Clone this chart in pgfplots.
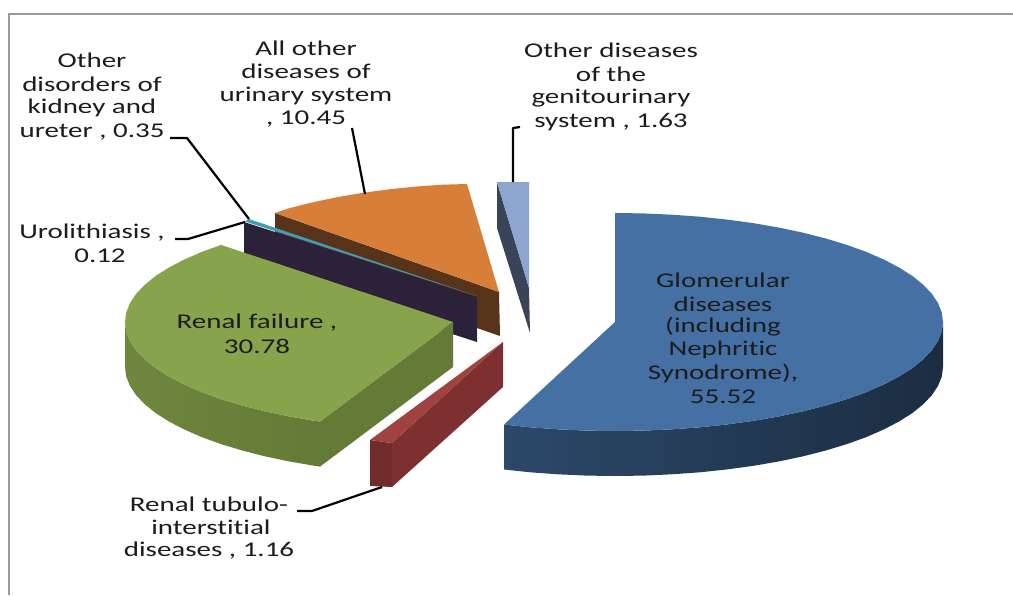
\documentclass[border=0pt]{standalone}
\usepackage{pgfplots}
\pgfplotsset{compat=1.18}
\usepackage{fontspec}
\setmainfont[Ligatures=NoCommon]{Carlito}
\definecolor{cBlue}{HTML}{4470A3}
\definecolor{cGreen}{HTML}{87A44C}
\definecolor{cOrange}{HTML}{D77F38}
\definecolor{cBrown}{HTML}{57331A}
\definecolor{cNavy}{HTML}{2B2138}
\definecolor{cTeal}{HTML}{3F9DB8}
\definecolor{cLight}{HTML}{8EA5CF}
\definecolor{cSlate}{HTML}{3A4458}
\definecolor{cRedTop}{HTML}{A04340}
\definecolor{cRedSide}{HTML}{7E3030}
\definecolor{cRedFront}{HTML}{722B2B}
\definecolor{cGreenSide}{HTML}{647A37}
\definecolor{cFrame}{HTML}{9A9A9A}
\definecolor{cTxt}{HTML}{1C1C1C}
\tikzset{lab/.style={font=\fontsize{21}{24}\selectfont,text=cTxt,xscale=1.38,transform shape,inner sep=0pt,anchor=center},
 lead/.style={draw=black,line width=2.2pt,no marks,line join=round}}
\begin{document}
\begin{tikzpicture}
\begin{axis}[width=1013pt,height=595pt,scale only axis,hide axis,xmin=0,xmax=1013,ymin=0,ymax=595,y dir=reverse,clip=true]
% page extent
\addplot[fill=white,draw=none,no marks] coordinates {(0,0)(1013,0)(1013,595)(0,595)} -- cycle;
% frame
\addplot[draw=cFrame,line width=2pt,no marks] coordinates {(9,595)(9,14)(1013,14)};
% light blue slice
\addplot[fill=cSlate,draw=none,no marks] coordinates {(497,182)(529,288)(530,333)(497,228)} -- cycle;
\addplot[fill=cLight,draw=none,no marks] coordinates {(497,182)(529,182)(529,288)} -- cycle;
% orange slice
\addplot[fill=cBrown,draw=none,no marks] coordinates {(275,213)(499,292)(500,336)(275,258)} -- cycle;
\addplot[fill=cOrange,draw=none,no marks] coordinates {(499,292)(467,184)(442,184.7)(414.1,186.7)(386.8,189.6)(360.4,193.2)(335,197.6)(310.9,202.7)(288.2,208.5)(275,213)} -- cycle;
% urolithiasis and other disorders
\addplot[fill=cNavy,draw=none,no marks] coordinates {(244,222)(477,297)(477,342)(244,267)} -- cycle;
\addplot[fill=cTeal,draw=none,no marks] coordinates {(249,219)(477,296)(245,221.5)} -- cycle;
% red slice
\addplot[fill=cRedFront,draw=none,no marks] coordinates {(370,440)(392,443)(392,487)(370,486)} -- cycle;
\addplot[fill=cRedSide,draw=none,no marks] coordinates {(392,443)(503,342)(503,387)(392,487)} -- cycle;
\addplot[fill=cRedTop,draw=none,no marks] coordinates {(370,440)(392,443)(503,342)} -- cycle;
% green slice
\addplot[draw=none,no marks,left color=cGreenSide!70!cGreen,right color=cGreenSide] coordinates {(320,421.6)(314.4,420.8)(289,416.4)(264.9,411.3)(242.2,405.5)(221.1,399.1)(201.7,392.1)(184.3,384.5)(169,376.5)(155.7,368.1)(144.8,359.3)(136.2,350.2)(130,340.9)(126.2,331.5)(125,322)(125,367)(126.2,376.5)(130,385.9)(136.2,395.2)(144.8,404.3)(155.7,413.1)(169,421.5)(184.3,429.5)(201.7,437.1)(221.1,444.1)(242.2,450.5)(264.9,456.3)(289,461.4)(314.4,465.8)(320,466.6)} -- cycle;
\addplot[fill=cGreenSide,draw=none,no marks] coordinates {(320,421.6)(453,322)(453,367)(320,466.6)} -- cycle;
\addplot[fill=cGreen,draw=none,no marks] coordinates {(453,322)(320,421.6)(314.4,420.8)(289,416.4)(264.9,411.3)(242.2,405.5)(221.1,399.1)(201.7,392.1)(184.3,384.5)(169,376.5)(155.7,368.1)(144.8,359.3)(136.2,350.2)(130,340.9)(126.2,331.5)(125,322)(126.2,312.5)(130,303.1)(136.2,293.8)(144.8,284.7)(155.7,275.9)(169,267.5)(184.3,259.5)(201.7,251.9)(221.1,244.9)} -- cycle;
% blue slice
\addplot[draw=none,no marks,left color=cBlue!65!black,right color=cBlue!40!black] coordinates {(504,424.5)(530.1,427.3)(558,429.3)(586.4,430.6)(615,431)(643.6,430.6)(672,429.3)(699.9,427.3)(727.2,424.4)(753.6,420.8)(779,416.4)(803.1,411.3)(825.8,405.5)(846.9,399.1)(866.3,392.1)(883.7,384.5)(899,376.5)(912.3,368.1)(923.2,359.3)(931.8,350.2)(938,340.9)(941.8,331.5)(943,322)(943,367)(941.8,376.5)(938,385.9)(931.8,395.2)(923.2,404.3)(912.3,413.1)(899,421.5)(883.7,429.5)(866.3,437.1)(846.9,444.1)(825.8,450.5)(803.1,456.3)(779,461.4)(753.6,465.8)(727.2,469.4)(699.9,472.3)(672,474.3)(643.6,475.6)(615,476)(586.4,475.6)(558,474.3)(530.1,472.3)(504,469.5)} -- cycle;
\addplot[fill=cBlue,draw=none,no marks] coordinates {(615,322)(615,213)(643.6,213.4)(672,214.7)(699.9,216.7)(727.2,219.6)(753.6,223.2)(779,227.6)(803.1,232.7)(825.8,238.5)(846.9,244.9)(866.3,251.9)(883.7,259.5)(899,267.5)(912.3,275.9)(923.2,284.7)(931.8,293.8)(938,303.1)(941.8,312.5)(943,322)(941.8,331.5)(938,340.9)(931.8,350.2)(923.2,359.3)(912.3,368.1)(899,376.5)(883.7,384.5)(866.3,392.1)(846.9,399.1)(825.8,405.5)(803.1,411.3)(779,416.4)(753.6,420.8)(727.2,424.4)(699.9,427.3)(672,429.3)(643.6,430.6)(615,431)(586.4,430.6)(558,429.3)(530.1,427.3)(504,424.5)} -- cycle;
% leader lines
\addplot[lead] coordinates {(520,127)(513,128)(513,182)};
\addplot[lead] coordinates {(352,128)(365,194)};
\addplot[lead] coordinates {(170,138)(187,138)(249,219)};
\addplot[lead] coordinates {(175,239)(188,239)(245,222)};
\addplot[lead] coordinates {(297,511)(312,511)(382,487)};
% labels
\node[lab] at (axis cs:92,60) {Other};
\node[lab] at (axis cs:92,84) {disorders of};
\node[lab] at (axis cs:92,108) {kidney and};
\node[lab] at (axis cs:92,132) {ureter , 0.35};
\node[lab] at (axis cs:306,48) {All other};
\node[lab] at (axis cs:306,71) {diseases of};
\node[lab] at (axis cs:306,96) {urinary system};
\node[lab] at (axis cs:306,119) {, 10.45};
\node[lab] at (axis cs:611,50) {Other diseases};
\node[lab] at (axis cs:611,74) {of the};
\node[lab] at (axis cs:611,98) {genitourinary};
\node[lab] at (axis cs:611,122) {system , 1.63};
\node[lab] at (axis cs:723,280) {Glomerular};
\node[lab] at (axis cs:723,304) {diseases};
\node[lab] at (axis cs:723,327) {(including};
\node[lab] at (axis cs:723,350) {Nephritic};
\node[lab] at (axis cs:723,374) {Synodrome),};
\node[lab] at (axis cs:723,397) {55.52};
\node[lab] at (axis cs:257,323) {Renal failure ,};
\node[lab] at (axis cs:257,346) {30.78};
\node[lab] at (axis cs:92,233) {Urolithiasis ,};
\node[lab] at (axis cs:100,256) {0.12};
\node[lab] at (axis cs:209,504) {Renal tubulo-};
\node[lab] at (axis cs:211,527) {interstitial};
\node[lab] at (axis cs:209,551) {diseases , 1.16};
\end{axis}
\end{tikzpicture}
\end{document}
